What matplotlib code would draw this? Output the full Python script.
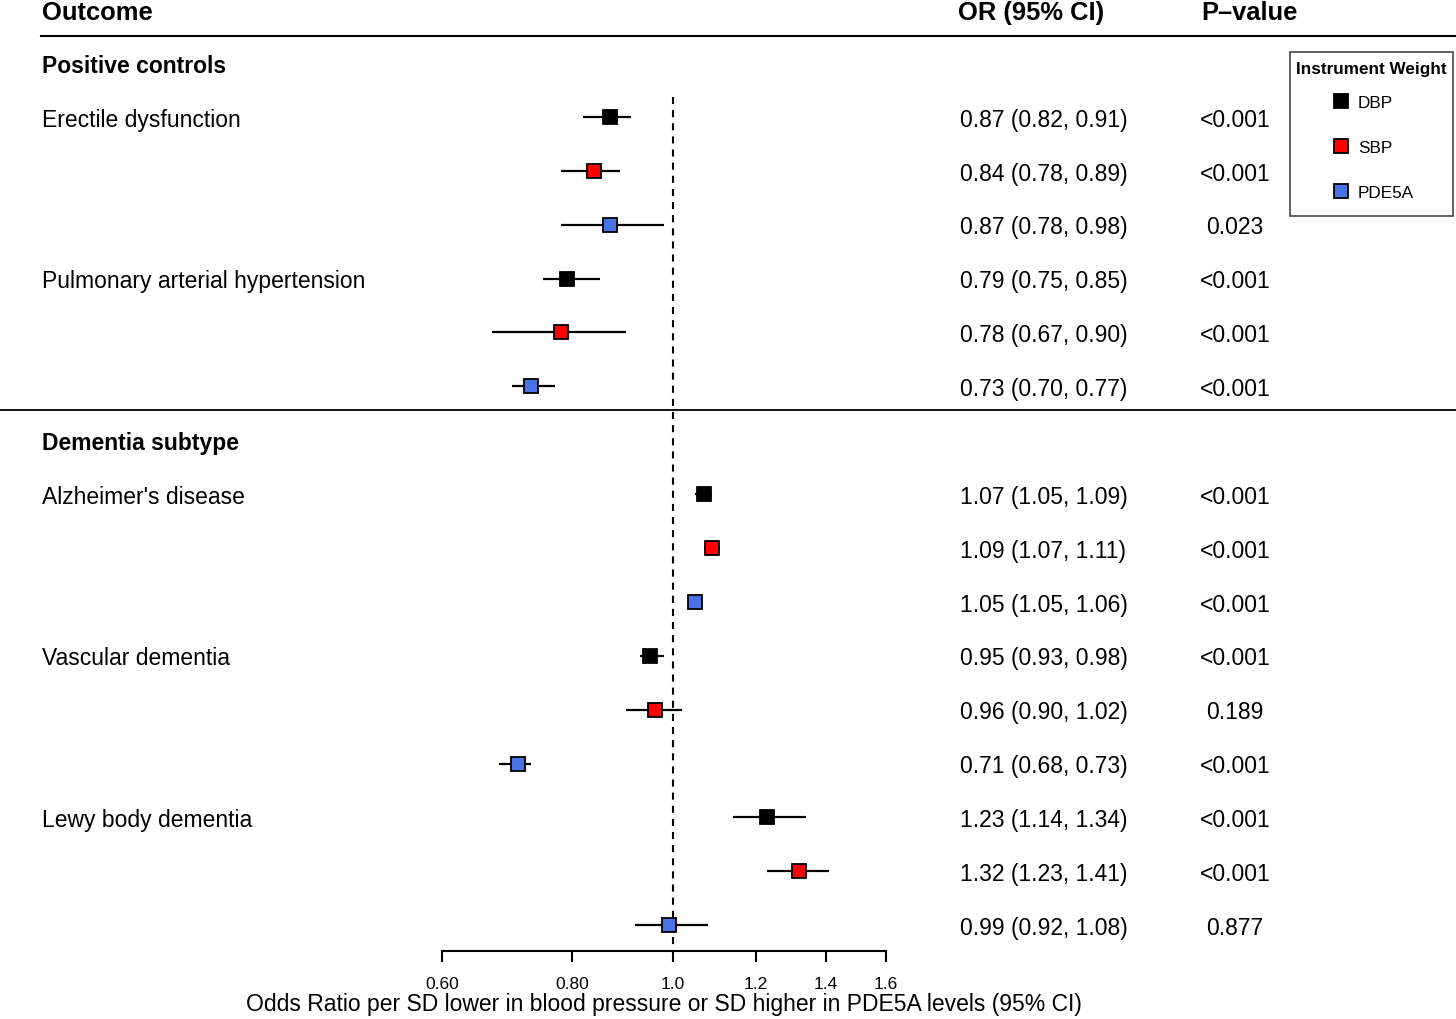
import matplotlib.pyplot as plt
from matplotlib.lines import Line2D
from matplotlib.patches import Rectangle
from matplotlib.transforms import blended_transform_factory

plt.rcParams['font.family'] = ['Liberation Sans', 'DejaVu Sans']

# data
groups = ['Positive controls', 'Dementia subtype']
outcomes = ['Erectile dysfunction', 'Pulmonary arterial hypertension',
            "Alzheimer's disease", 'Vascular dementia', 'Lewy body dementia']
outcome_group = [0, 0, 1, 1, 1]
weights = ['DBP', 'SBP', 'PDE5A']
weight_colors = ['#000000', '#FF0000', '#4A72E4']

# one row per outcome, columns in the order DBP, SBP, PDE5A
odds = [[0.87, 0.84, 0.87], [0.79, 0.78, 0.73], [1.07, 1.09, 1.05],
        [0.95, 0.96, 0.71], [1.23, 1.32, 0.99]]
lower = [[0.82, 0.78, 0.78], [0.75, 0.67, 0.70], [1.05, 1.07, 1.05],
         [0.93, 0.90, 0.68], [1.14, 1.23, 0.92]]
upper = [[0.91, 0.89, 0.98], [0.85, 0.90, 0.77], [1.09, 1.11, 1.06],
         [0.98, 1.02, 0.73], [1.34, 1.41, 1.08]]
pvals = [['<0.001', '<0.001', '0.023'], ['<0.001', '<0.001', '<0.001'],
         ['<0.001', '<0.001', '<0.001'], ['<0.001', '0.189', '<0.001'],
         ['<0.001', '<0.001', '0.877']]

xticks = [0.60, 0.80, 1.0, 1.2, 1.4, 1.6]
xticklabels = ['0.60', '0.80', '1.0', '1.2', '1.4', '1.6']

W, H = 1456, 1020
fig = plt.figure(figsize=(W / 100, H / 100), dpi=100)
ax = fig.add_axes([442 / W, 68 / H, 444 / W, 952 / H])
ax.set_xscale('log')
ax.set_xlim(0.6, 1.6)
ax.set_ylim(16.48, -1.19)

tr = blended_transform_factory(fig.transFigure, ax.transData)
body = 16.5
dy = 0.04  # nudge text down a touch to sit on the row centre

# lay out rows: group header, then three rows per outcome
row = 0
group_rows = []
last_group = None
for i, name in enumerate(outcomes):
    g = outcome_group[i]
    if g != last_group:
        ax.text(42 / W, row + dy, groups[g], transform=tr, fontsize=body,
                fontweight='bold', va='center', ha='left')
        group_rows.append(row)
        row += 1
        last_group = g
    ax.text(42 / W, row + dy, name, transform=tr, fontsize=body, va='center', ha='left')
    for j in range(3):
        ax.plot([lower[i][j], upper[i][j]], [row, row], color='black', lw=1.6,
                solid_capstyle='butt', zorder=2)
        ax.plot(odds[i][j], row, marker='s', ms=10, mfc=weight_colors[j],
                mec='black', mew=1.3, zorder=3)
        ax.text(960 / W, row + dy, f'{odds[i][j]:.2f} ({lower[i][j]:.2f}, {upper[i][j]:.2f})',
                transform=tr, fontsize=body, va='center', ha='left')
        ax.text(1235 / W, row + dy, pvals[i][j], transform=tr, fontsize=body,
                va='center', ha='center')
        row += 1

# column headers
head = 18.4
ax.text(42 / W, -1 + 0.05, 'Outcome', transform=tr, fontsize=head, fontweight='bold', va='center')
ax.text(958 / W, -1 + 0.05, 'OR (95% CI)', transform=tr, fontsize=head, fontweight='bold', va='center')
ax.text(1201 / W, -1 + 0.05, 'P\u2013value', transform=tr, fontsize=head, fontweight='bold', va='center')

# rules
fig.add_artist(Line2D([41 / W, 1], [-0.5, -0.5], transform=tr, color='black', lw=1.5))
sep = group_rows[1] - 0.56
fig.add_artist(Line2D([0, 1], [sep, sep], transform=tr, color='black', lw=1.3))

# reference line at OR = 1
ax.plot([1, 1], [0.63, 16.48], color='black', lw=1.5, ls=(0, (3.4, 2.9)), zorder=1)

for s in ['top', 'left', 'right']:
    ax.spines[s].set_visible(False)
ax.spines['bottom'].set_linewidth(1.5)
ax.set_yticks([])
ax.set_xticks(xticks)
ax.set_xticklabels(xticklabels)
ax.minorticks_off()
ax.tick_params(axis='x', direction='out', length=8, width=1.5, labelsize=12.5, pad=10)
ax.set_xlabel('Odds Ratio per SD lower in blood pressure or SD higher in PDE5A levels (95% CI)',
              fontsize=body, labelpad=1)

# legend box drawn by hand, legend itself unframed
fig.add_artist(Rectangle((1290 / W, 1 - 217 / H), 163 / W, 164 / H, transform=fig.transFigure,
                         fill=False, edgecolor='#555555', lw=1.3))
handles = [Line2D([], [], ls='none', marker='s', ms=10, mfc=c, mec='black', mew=1.3)
           for c in weight_colors]
leg = fig.legend(handles, weights, loc='upper center', bbox_to_anchor=(1371.5 / W, 1 - 53 / H),
                 title='Instrument Weight', fontsize=12.3,
                 title_fontproperties={'weight': 'bold', 'size': 12.3},
                 frameon=False, labelspacing=1.75, handlelength=1.4,
                 handletextpad=0.3, borderpad=0.5, borderaxespad=0)
leg._legend_box.sep = 14

fig.savefig('out.png', dpi=100)
